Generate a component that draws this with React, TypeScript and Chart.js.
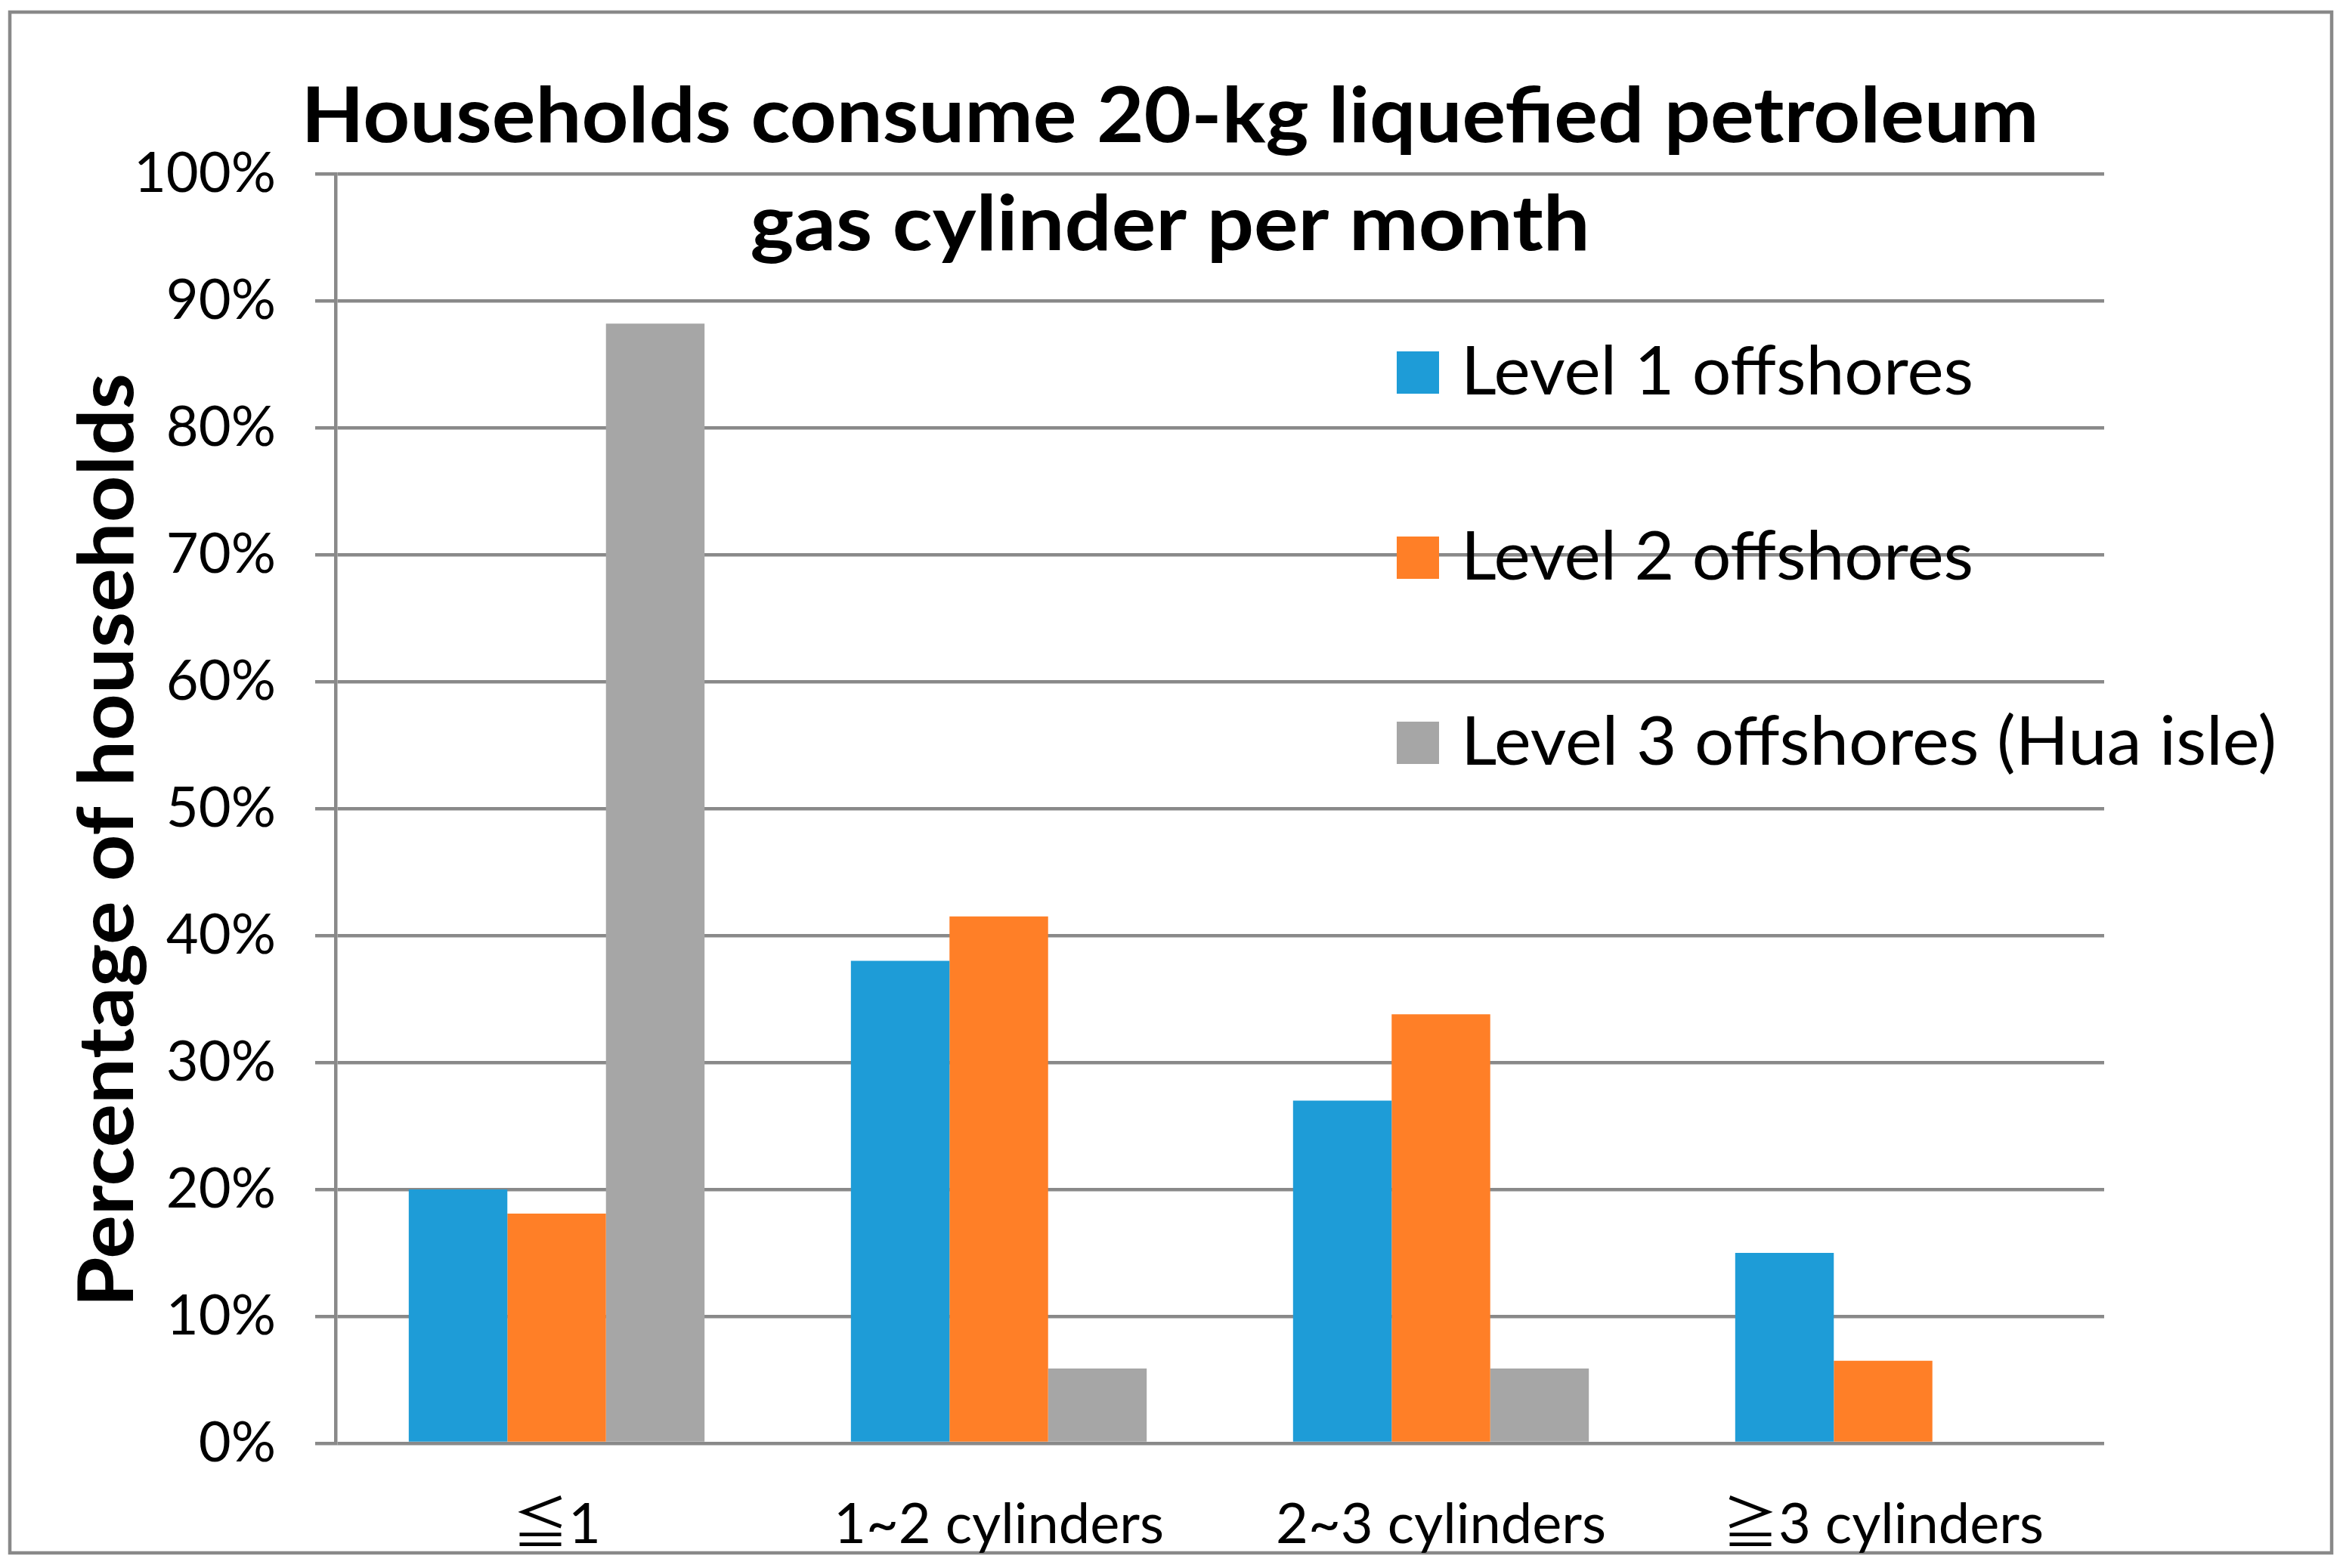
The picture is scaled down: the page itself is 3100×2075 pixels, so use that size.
import React, { useEffect, useRef } from "react";
import { Chart, registerables } from "chart.js";

Chart.register(...registerables);

// ---------- data ----------
const categories = ["≦1", "1~2 cylinders", "2~3 cylinders", "≧3 cylinders"];
const seriesLabels = [
  "Level 1 offshores",
  "Level 2 offshores",
  "Level 3 offshores (Hua isle)",
];
const level1 = [20, 38, 27, 15];
const level2 = [18.1, 41.5, 33.8, 6.5];
const level3 = [88.2, 5.9, 5.9, 0];
const yMin = 0;
const yMax = 100;
const yStep = 10;
const titleLines = [
  "Households consume 20-kg liquefied petroleum",
  "gas cylinder per month",
];
const yTitle = "Percentage of households";

// ---------- style ----------
const COLORS = ["#1E9CD7", "#FF7F27", "#A6A6A6"];
const GRID = "#898989";
const FONT = "Lato, 'DejaVu Sans', 'Noto Sans', sans-serif";
const FONT_X = "Lato, 'Noto Sans CJK JP', 'DejaVu Sans', sans-serif";
const W = 3100;
const H = 2075;

function drawFitted(
  ctx: CanvasRenderingContext2D,
  text: string,
  x: number,
  y: number,
  width: number,
  align: "left" | "center"
) {
  const m = ctx.measureText(text).width;
  const s = width / m;
  ctx.save();
  ctx.translate(x, y);
  ctx.scale(s, 1);
  ctx.textAlign = align;
  ctx.fillText(text, 0, 0);
  ctx.restore();
}

const overlayPlugin = {
  id: "overlay",
  beforeDraw(chart: any) {
    const ctx = chart.ctx as CanvasRenderingContext2D;
    ctx.save();
    ctx.fillStyle = "#ffffff";
    ctx.fillRect(0, 0, chart.width, chart.height);
    ctx.strokeStyle = GRID;
    ctx.lineWidth = 4.5;
    ctx.strokeRect(13, 16, 3072, 2039);
    ctx.restore();
  },
  afterDraw(chart: any) {
    const ctx = chart.ctx as CanvasRenderingContext2D;
    ctx.save();
    ctx.fillStyle = "#000000";
    ctx.textBaseline = "alphabetic";
    // title
    ctx.font = `bold 102px ${FONT}`;
    drawFitted(ctx, titleLines[0], 1548, 188, 2299, "center");
    drawFitted(ctx, titleLines[1], 1548, 331, 1111, "center");
    // y axis title
    ctx.save();
    ctx.translate(176, 1112);
    ctx.rotate(-Math.PI / 2);
    drawFitted(ctx, yTitle, 0, 0, 1236, "center");
    ctx.restore();
    // legend
    const widths = [678, 678, 1079];
    chart.data.datasets.forEach((ds: any, i: number) => {
      const cy = 493 + i * 245;
      ctx.fillStyle = ds.backgroundColor;
      ctx.fillRect(1848, cy - 28, 56, 56);
      ctx.fillStyle = "#000000";
      ctx.font = `89px ${FONT}`;
      drawFitted(ctx, ds.label, 1933, cy + 29, widths[i], "left");
    });
    ctx.restore();
  },
};

export default function App() {
  const ref = useRef<HTMLCanvasElement | null>(null);

  useEffect(() => {
    if (!ref.current) return;
    const seriesValues = [level1, level2, level3];
    const chart = new Chart(ref.current, {
      type: "bar",
      data: {
        labels: categories,
        datasets: seriesLabels.map((label, i) => ({
          label,
          data: seriesValues[i],
          backgroundColor: COLORS[i],
          borderWidth: 0,
          categoryPercentage: 0.669,
          barPercentage: 1,
        })),
      },
      options: {
        responsive: false,
        animation: false,
        devicePixelRatio: 1,
        layout: { padding: { top: 230, right: 316, bottom: 0, left: 0 } },
        plugins: {
          legend: { display: false },
          title: { display: false },
          tooltip: { enabled: false },
        },
        scales: {
          x: {
            grid: { display: false, drawTicks: false },
            border: { display: false },
            ticks: {
              color: "#000000",
              font: { family: FONT_X, size: 74, lineHeight: 1.2 },
              padding: 64,
              maxRotation: 0,
              autoSkip: false,
            },
            afterFit: (s: any) => {
              s.height = 165;
            },
          },
          y: {
            min: yMin,
            max: yMax,
            ticks: {
              stepSize: yStep,
              color: "#000000",
              font: { family: FONT, size: 74, lineHeight: 1.2 },
              padding: 52,
              callback: (v: any) => `${v}%`,
            },
            grid: {
              color: GRID,
              lineWidth: 4.5,
              drawTicks: true,
              tickLength: 27,
            },
            border: { display: true, color: GRID, width: 4.5 },
            afterFit: (s: any) => {
              s.width = 444;
            },
          },
        },
      },
      plugins: [overlayPlugin],
    });
    return () => chart.destroy();
  }, []);

  return (
    <div style={{ position: "absolute", left: 0, top: 0, width: W, height: H }}>
      <canvas ref={ref} width={W} height={H} style={{ display: "block", width: W, height: H }} />
    </div>
  );
}
